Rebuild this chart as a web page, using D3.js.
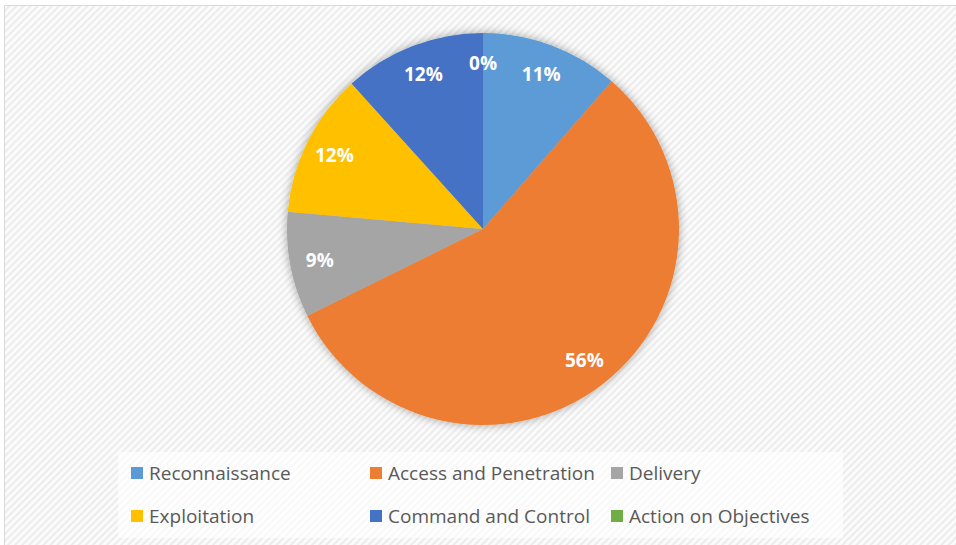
<!DOCTYPE html>
<html>
<head>
<meta charset="utf-8">
<script src="https://cdn.jsdelivr.net/npm/d3@7"></script>
<style>
  html, body { margin: 0; padding: 0; background: #ffffff; }
  svg { display: block; }
</style>
</head>
<body>
<div id="chart"></div>
<script>
// kill chain stages and their share of the total (percent)
const categories = ["Reconnaissance", "Access and Penetration", "Delivery", "Exploitation", "Command and Control", "Action on Objectives"];
const shares = [11.4, 56.3, 8.7, 11.9, 11.7, 0];
const colors = ["#5b9bd5", "#ed7d31", "#a5a5a5", "#ffc000", "#4472c4", "#70ad47"];

const width = 956, height = 545;
const cx = 483, cy = 229, radius = 196;

const svg = d3.select("#chart").append("svg")
    .attr("width", width)
    .attr("height", height);

const defs = svg.append("defs");

// diagonal hatch background
const pat = defs.append("pattern")
    .attr("id", "hatch")
    .attr("patternUnits", "userSpaceOnUse")
    .attr("width", 5).attr("height", 5)
    .attr("patternTransform", "rotate(45)");
pat.append("rect").attr("width", 5).attr("height", 5).attr("fill", "#fbfbfb");
pat.append("rect").attr("width", 2).attr("height", 5).attr("fill", "#ececec");

const shadow = defs.append("filter")
    .attr("id", "glow")
    .attr("x", "-20%").attr("y", "-20%")
    .attr("width", "140%").attr("height", "140%");
shadow.append("feDropShadow")
    .attr("dx", 0).attr("dy", 0)
    .attr("stdDeviation", 5)
    .attr("flood-color", "#000")
    .attr("flood-opacity", 0.35);

// chart area
svg.append("rect")
    .attr("x", 4.5).attr("y", 5.5)
    .attr("width", width + 10).attr("height", height + 10)
    .attr("fill", "url(#hatch)")
    .attr("stroke", "#d9d9d9")
    .attr("stroke-width", 1);

// pie
const data = categories.map((c, i) => ({ name: c, value: shares[i], color: colors[i] }));
const total = d3.sum(shares);
const pie = d3.pie().value(d => d.value).sort(null);
const arc = d3.arc().innerRadius(0).outerRadius(radius);
const labelArc = d3.arc().innerRadius(166).outerRadius(166);

const pieGroup = svg.append("g")
    .attr("transform", `translate(${cx},${cy})`);

const slices = pieGroup.append("g").attr("filter", "url(#glow)");
slices.selectAll("path")
    .data(pie(data))
    .enter()
    .append("path")
    .attr("d", arc)
    .attr("fill", d => d.data.color);

pieGroup.selectAll(".lbl")
    .data(pie(data))
    .enter()
    .append("text")
    .attr("class", "lbl")
    .attr("transform", d => `translate(${labelArc.centroid(d)})`)
    .attr("text-anchor", "middle")
    .attr("dominant-baseline", "central")
    .style("font-family", "'Open Sans', sans-serif")
    .style("font-size", "19px")
    .style("font-weight", "700")
    .style("fill", "#ffffff")
    .text(d => Math.round(d.data.value / total * 100) + "%");

// legend
svg.append("rect")
    .attr("x", 118).attr("y", 452)
    .attr("width", 725).attr("height", 86)
    .attr("fill", "#ffffff")
    .attr("fill-opacity", 0.65);

const colX = [131, 370, 611];
const rowY = [473, 516];

const legendItems = svg.selectAll(".legend-item")
    .data(data)
    .enter()
    .append("g")
    .attr("class", "legend-item")
    .attr("transform", (d, i) => `translate(${colX[i % 3]}, ${rowY[Math.floor(i / 3)]})`);

legendItems.append("rect")
    .attr("x", 0).attr("y", -6)
    .attr("width", 12).attr("height", 12)
    .attr("fill", d => d.color);

legendItems.append("text")
    .attr("x", 18)
    .attr("y", 0)
    .attr("dominant-baseline", "central")
    .style("font-family", "'Open Sans', sans-serif")
    .style("font-size", "19px")
    .style("fill", "#595959")
    .text(d => d.name);
</script>
</body>
</html>
